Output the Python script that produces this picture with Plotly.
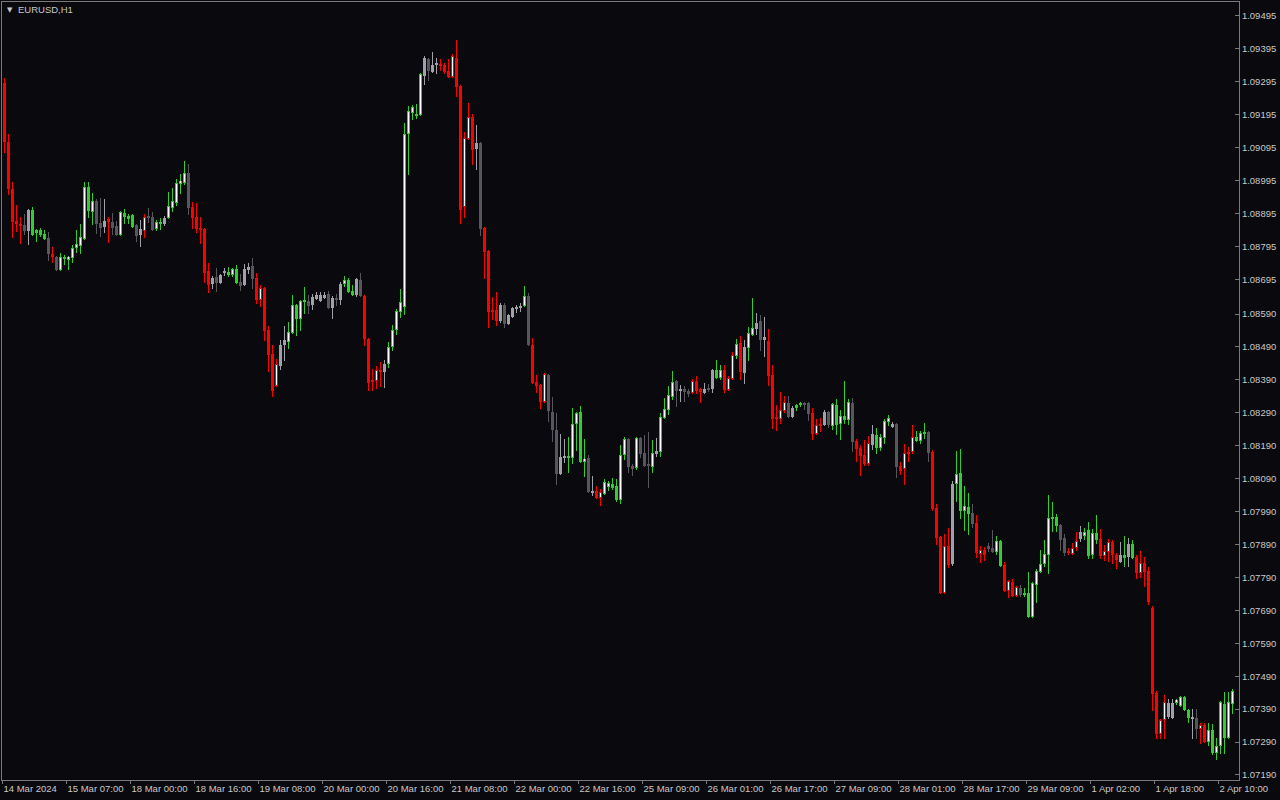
import plotly.graph_objects as go

# ---- data (EURUSD H1, bar index based) ----
opens = [1.09292,1.09113,1.08970,1.08873,1.08864,1.08861,1.08842,1.08906,1.08845,1.08845,
1.08833,1.08821,1.08773,1.08764,1.08724,1.08764,1.08754,1.08760,1.08791,1.08797,
1.08818,1.08976,1.08900,1.08934,1.08867,1.08855,1.08879,1.08870,1.08858,1.08830,
1.08897,1.08888,1.08891,1.08861,1.08830,1.08842,1.08888,1.08885,1.08849,1.08870,
1.08864,1.08882,1.08912,1.08928,1.08985,1.08988,1.09019,1.08915,1.08885,1.08852,
1.08849,1.08721,1.08681,1.08703,1.08685,1.08715,1.08718,1.08709,1.08727,1.08688,
1.08678,1.08724,1.08736,1.08700,1.08633,1.08669,1.08542,1.08469,1.08372,1.08432,
1.08496,1.08505,1.08533,1.08618,1.08575,1.08630,1.08630,1.08618,1.08636,1.08630,
1.08639,1.08651,1.08609,1.08639,1.08633,1.08681,1.08694,1.08660,1.08648,1.08694,
1.08645,1.08514,1.08384,1.08387,1.08420,1.08414,1.08439,1.08490,1.08542,1.08597,
1.08612,1.09137,1.09201,1.09192,1.09195,1.09313,1.09365,1.09325,1.09347,1.09347,
1.09347,1.09328,1.09310,1.09368,1.09283,1.08915,1.09122,1.09189,1.09091,1.09110,
1.08852,1.08782,1.08597,1.08603,1.08569,1.08618,1.08560,1.08581,1.08606,1.08611,
1.08615,1.08645,1.08496,1.08384,1.08375,1.08323,1.08405,1.08293,1.08238,1.08105,
1.08153,1.08159,1.08153,1.08256,1.08293,1.08141,1.08153,1.08047,1.08053,1.08032,
1.08044,1.08065,1.08074,1.08068,1.08026,1.08162,1.08211,1.08129,1.08123,1.08214,
1.08168,1.08132,1.08126,1.08165,1.08171,1.08275,1.08299,1.08338,1.08387,1.08357,
1.08363,1.08357,1.08350,1.08387,1.08363,1.08350,1.08366,1.08363,1.08420,1.08396,
1.08420,1.08360,1.08393,1.08463,1.08502,1.08411,1.08487,1.08527,1.08545,1.08569,
1.08511,1.08508,1.08405,1.08278,1.08272,1.08296,1.08320,1.08278,1.08314,1.08317,
1.08320,1.08320,1.08290,1.08226,1.08250,1.08253,1.08293,1.08250,1.08314,1.08256,
1.08281,1.08269,1.08320,1.08205,1.08183,1.08162,1.08135,1.08193,1.08223,1.08183,
1.08214,1.08262,1.08247,1.08256,1.08129,1.08120,1.08165,1.08171,1.08217,1.08205,
1.08229,1.08232,1.08171,1.08001,1.07913,1.07743,1.07886,1.07831,1.08074,1.08108,
1.07992,1.08004,1.07986,1.07956,1.07861,1.07874,1.07886,1.07880,1.07868,1.07901,
1.07828,1.07749,1.07776,1.07734,1.07758,1.07737,1.07743,1.07670,1.07767,1.07807,
1.07831,1.07858,1.07968,1.07974,1.07950,1.07910,1.07871,1.07861,1.07880,1.07907,
1.07916,1.07934,1.07858,1.07925,1.07907,1.07855,1.07868,1.07898,1.07858,1.07837,
1.07858,1.07852,1.07892,1.07852,1.07804,1.07834,1.07810,1.07698,1.07439,1.07315,
1.07358,1.07366,1.07363,1.07409,1.07400,1.07427,1.07388,1.07361,1.07363,1.07330,
1.07342,1.07290,1.07327,1.07257,1.07278,1.07406,1.07303,1.07406]

highs = [1.09307,1.09137,1.08991,1.08921,1.08885,1.08894,1.08909,1.08915,1.08849,1.08852,
1.08845,1.08839,1.08794,1.08767,1.08776,1.08770,1.08767,1.08800,1.08845,1.08864,
1.08991,1.08991,1.08958,1.08940,1.08943,1.08940,1.08885,1.08897,1.08873,1.08903,
1.08909,1.08894,1.08894,1.08864,1.08876,1.08894,1.08912,1.08900,1.08876,1.08882,
1.08888,1.08961,1.08973,1.09000,1.09016,1.09055,1.09046,1.08931,1.08928,1.08885,
1.08852,1.08745,1.08706,1.08730,1.08712,1.08730,1.08733,1.08730,1.08739,1.08712,
1.08742,1.08745,1.08760,1.08715,1.08678,1.08672,1.08554,1.08496,1.08454,1.08511,
1.08554,1.08566,1.08648,1.08621,1.08633,1.08672,1.08648,1.08651,1.08657,1.08657,
1.08657,1.08660,1.08645,1.08651,1.08688,1.08706,1.08700,1.08678,1.08700,1.08715,
1.08648,1.08517,1.08423,1.08432,1.08445,1.08451,1.08505,1.08557,1.08606,1.08666,
1.09170,1.09222,1.09225,1.09228,1.09322,1.09374,1.09368,1.09386,1.09368,1.09365,
1.09353,1.09365,1.09380,1.09422,1.09286,1.09143,1.09231,1.09198,1.09164,1.09113,
1.08855,1.08785,1.08642,1.08657,1.08624,1.08624,1.08590,1.08612,1.08618,1.08624,
1.08675,1.08654,1.08517,1.08405,1.08378,1.08411,1.08408,1.08338,1.08290,1.08226,
1.08211,1.08217,1.08305,1.08293,1.08311,1.08211,1.08162,1.08098,1.08068,1.08059,
1.08089,1.08083,1.08092,1.08089,1.08193,1.08217,1.08214,1.08135,1.08217,1.08217,
1.08223,1.08232,1.08208,1.08214,1.08290,1.08335,1.08372,1.08417,1.08390,1.08375,
1.08372,1.08363,1.08393,1.08402,1.08366,1.08381,1.08378,1.08423,1.08451,1.08435,
1.08435,1.08402,1.08475,1.08514,1.08524,1.08511,1.08551,1.08639,1.08593,1.08587,
1.08581,1.08545,1.08435,1.08314,1.08354,1.08341,1.08341,1.08311,1.08317,1.08323,
1.08323,1.08323,1.08305,1.08272,1.08275,1.08299,1.08296,1.08320,1.08332,1.08299,
1.08387,1.08332,1.08335,1.08211,1.08193,1.08208,1.08220,1.08253,1.08244,1.08226,
1.08272,1.08284,1.08262,1.08259,1.08141,1.08196,1.08186,1.08253,1.08235,1.08235,
1.08259,1.08235,1.08177,1.08013,1.07916,1.07922,1.07940,1.08083,1.08174,1.08180,
1.08068,1.08047,1.08013,1.07980,1.07886,1.07883,1.07895,1.07934,1.07916,1.07904,
1.07837,1.07783,1.07786,1.07764,1.07767,1.07758,1.07807,1.07776,1.07816,1.07874,
1.07904,1.08041,1.08019,1.07983,1.07953,1.07922,1.07880,1.07895,1.07928,1.07947,
1.07940,1.07959,1.07937,1.07980,1.07937,1.07889,1.07907,1.07904,1.07865,1.07898,
1.07916,1.07910,1.07904,1.07858,1.07871,1.07852,1.07822,1.07704,1.07446,1.07361,
1.07433,1.07421,1.07421,1.07421,1.07430,1.07430,1.07391,1.07391,1.07391,1.07348,
1.07348,1.07348,1.07345,1.07303,1.07415,1.07442,1.07442,1.07452]

lows = [1.09079,1.08952,1.08821,1.08839,1.08803,1.08830,1.08800,1.08827,1.08809,1.08824,
1.08815,1.08751,1.08745,1.08721,1.08721,1.08739,1.08724,1.08745,1.08776,1.08773,
1.08815,1.08882,1.08861,1.08833,1.08824,1.08836,1.08806,1.08830,1.08827,1.08827,
1.08864,1.08864,1.08852,1.08809,1.08794,1.08821,1.08867,1.08842,1.08842,1.08845,
1.08858,1.08879,1.08900,1.08918,1.08955,1.08982,1.08891,1.08849,1.08836,1.08803,
1.08685,1.08654,1.08666,1.08657,1.08681,1.08706,1.08703,1.08703,1.08681,1.08660,
1.08675,1.08712,1.08666,1.08621,1.08612,1.08508,1.08414,1.08338,1.08369,1.08420,
1.08448,1.08484,1.08530,1.08524,1.08539,1.08590,1.08590,1.08603,1.08633,1.08627,
1.08636,1.08606,1.08575,1.08615,1.08618,1.08672,1.08654,1.08645,1.08642,1.08642,
1.08493,1.08357,1.08357,1.08363,1.08369,1.08366,1.08426,1.08478,1.08527,1.08578,
1.08587,1.09013,1.09180,1.09183,1.09192,1.09286,1.09298,1.09322,1.09319,1.09328,
1.09319,1.09307,1.09307,1.09249,1.08864,1.08882,1.09119,1.09043,1.09028,1.08827,
1.08697,1.08548,1.08572,1.08554,1.08563,1.08548,1.08557,1.08578,1.08593,1.08597,
1.08612,1.08493,1.08378,1.08351,1.08302,1.08320,1.08262,1.08202,1.08071,1.08101,
1.08138,1.08108,1.08135,1.08174,1.08138,1.08095,1.08047,1.08038,1.08029,1.08007,
1.08041,1.08053,1.08056,1.08019,1.08013,1.08147,1.08108,1.08098,1.08117,1.08153,
1.08126,1.08062,1.08108,1.08156,1.08156,1.08272,1.08284,1.08329,1.08308,1.08323,
1.08323,1.08338,1.08347,1.08347,1.08320,1.08347,1.08354,1.08350,1.08393,1.08390,
1.08350,1.08357,1.08390,1.08454,1.08390,1.08378,1.08448,1.08524,1.08527,1.08478,
1.08460,1.08372,1.08241,1.08235,1.08256,1.08290,1.08275,1.08275,1.08296,1.08308,
1.08299,1.08265,1.08208,1.08223,1.08232,1.08250,1.08244,1.08238,1.08223,1.08208,
1.08256,1.08253,1.08171,1.08141,1.08098,1.08129,1.08129,1.08177,1.08165,1.08174,
1.08196,1.08250,1.08244,1.08092,1.08101,1.08071,1.08141,1.08165,1.08202,1.08196,
1.08211,1.08141,1.07992,1.07889,1.07740,1.07740,1.07819,1.07825,1.08019,1.07968,
1.07931,1.07919,1.07940,1.07849,1.07834,1.07840,1.07868,1.07865,1.07858,1.07822,
1.07746,1.07728,1.07731,1.07731,1.07731,1.07731,1.07667,1.07667,1.07713,1.07804,
1.07822,1.07801,1.07928,1.07928,1.07871,1.07855,1.07858,1.07858,1.07871,1.07898,
1.07904,1.07846,1.07846,1.07892,1.07846,1.07840,1.07837,1.07831,1.07816,1.07834,
1.07822,1.07822,1.07846,1.07786,1.07789,1.07761,1.07707,1.07385,1.07300,1.07300,
1.07300,1.07361,1.07361,1.07403,1.07397,1.07385,1.07348,1.07300,1.07300,1.07284,
1.07287,1.07278,1.07251,1.07236,1.07254,1.07254,1.07300,1.07376]

closes = [1.09113,1.08970,1.08870,1.08864,1.08858,1.08842,1.08906,1.08830,1.08836,1.08830,
1.08818,1.08773,1.08764,1.08724,1.08764,1.08757,1.08764,1.08791,1.08803,1.08824,
1.08976,1.08903,1.08934,1.08864,1.08852,1.08873,1.08870,1.08852,1.08830,1.08900,
1.08885,1.08879,1.08855,1.08827,1.08849,1.08885,1.08882,1.08845,1.08870,1.08864,
1.08882,1.08918,1.08934,1.08988,1.08994,1.09019,1.08912,1.08882,1.08849,1.08845,
1.08715,1.08678,1.08700,1.08685,1.08709,1.08718,1.08709,1.08727,1.08685,1.08675,
1.08727,1.08733,1.08697,1.08633,1.08669,1.08539,1.08466,1.08357,1.08439,1.08496,
1.08511,1.08536,1.08618,1.08575,1.08630,1.08627,1.08615,1.08642,1.08648,1.08648,
1.08648,1.08609,1.08639,1.08633,1.08681,1.08694,1.08657,1.08648,1.08697,1.08645,
1.08514,1.08381,1.08390,1.08420,1.08414,1.08439,1.08490,1.08542,1.08600,1.08627,
1.09137,1.09207,1.09219,1.09198,1.09319,1.09368,1.09328,1.09347,1.09350,1.09344,
1.09325,1.09310,1.09374,1.09280,1.08906,1.09125,1.09189,1.09088,1.09110,1.08849,
1.08779,1.08597,1.08603,1.08569,1.08618,1.08560,1.08587,1.08609,1.08612,1.08612,
1.08645,1.08496,1.08381,1.08372,1.08323,1.08408,1.08296,1.08238,1.08105,1.08156,
1.08156,1.08153,1.08256,1.08290,1.08141,1.08150,1.08050,1.08053,1.08032,1.08050,
1.08080,1.08077,1.08062,1.08026,1.08162,1.08211,1.08126,1.08120,1.08214,1.08165,
1.08129,1.08129,1.08168,1.08174,1.08278,1.08302,1.08344,1.08384,1.08357,1.08360,
1.08354,1.08347,1.08387,1.08357,1.08354,1.08363,1.08360,1.08420,1.08396,1.08420,
1.08360,1.08396,1.08466,1.08499,1.08414,1.08490,1.08533,1.08548,1.08563,1.08511,
1.08521,1.08402,1.08272,1.08272,1.08299,1.08323,1.08278,1.08305,1.08305,1.08314,
1.08314,1.08287,1.08226,1.08253,1.08256,1.08293,1.08253,1.08317,1.08253,1.08281,
1.08269,1.08323,1.08202,1.08180,1.08159,1.08135,1.08199,1.08226,1.08183,1.08217,
1.08265,1.08275,1.08256,1.08126,1.08114,1.08168,1.08171,1.08217,1.08205,1.08229,
1.08226,1.08168,1.07998,1.07910,1.07743,1.07886,1.07828,1.08074,1.08105,1.07992,
1.08007,1.07983,1.07953,1.07865,1.07874,1.07858,1.07877,1.07868,1.07901,1.07825,
1.07749,1.07780,1.07734,1.07761,1.07737,1.07743,1.07670,1.07773,1.07810,1.07831,
1.07861,1.07971,1.07974,1.07947,1.07904,1.07865,1.07865,1.07880,1.07901,1.07928,
1.07928,1.07855,1.07925,1.07904,1.07855,1.07871,1.07898,1.07858,1.07843,1.07858,
1.07849,1.07892,1.07849,1.07804,1.07834,1.07807,1.07716,1.07436,1.07315,1.07358,
1.07412,1.07409,1.07409,1.07418,1.07427,1.07388,1.07363,1.07363,1.07330,1.07342,
1.07290,1.07327,1.07257,1.07278,1.07412,1.07303,1.07412,1.07446]

# indicator colour class of each bar: g = green, r = red, n = neutral grey
bar_class = ("rrrrrnnggg" "gnrngggggg" "gggnnnrnng" "gggnnrnngg" "ngggggnrrr"
             "rrnnnngggn" "nnnrrrrrrn" "ngggggnnnn" "nnnnngggnn" "rrrrrngggg"
             "gggggnnnnr" "rrrrrrrrnn" "rrrrnnnnnn" "gnrrrrnnnn" "ngggggnnrr"
             "ggggggnngn" "nngnggggnn" "nnrrrnnngg" "rrrgrnggnn" "nrrrrrnngg"
             "nnrrrnnggg" "ggnrrrrngg" "ggnnrrrrgg" "gnrrrrrngg" "ggnrrrnngg"
             "rrrrnggggg" "ggggnnrrrn" "ggggrrrrrn" "gngrrrrrrr" "rnnggggnnr"
             "rggggggg")

price_ticks = [1.09495,1.09395,1.09295,1.09195,1.09095,1.08995,1.08895,1.08795,
               1.08695,1.08590,1.08490,1.08390,1.08290,1.08190,1.08090,1.07990,
               1.07890,1.07790,1.07690,1.07590,1.07490,1.07390,1.07290,1.07190]

time_tick_bars = list(range(0, 305, 16))
time_tick_labels = ["14 Mar 2024","15 Mar 07:00","18 Mar 00:00","18 Mar 16:00",
                    "19 Mar 08:00","20 Mar 00:00","20 Mar 16:00","21 Mar 08:00",
                    "22 Mar 00:00","22 Mar 16:00","25 Mar 09:00","26 Mar 01:00",
                    "26 Mar 17:00","27 Mar 09:00","28 Mar 01:00","28 Mar 17:00",
                    "29 Mar 09:00","1 Apr 02:00","1 Apr 18:00","2 Apr 10:00"]

# ---- styling / geometry ----
BG = "#0a0a0e"
TXT = "#c8c8c8"
FRAME = "#7a7a7a"
GREEN, RED, DGRAY, LGRAY, WHITE = "#32CD32", "#FF0000", "#56565C", "#A0A0A8", "#FFFFFF"
FONT = "Liberation Sans, Arial, sans-serif"
L, R, T, B = 2, 41, 2, 20
W, H = 1280, 800
pw, ph = W - L - R, H - T - B
Y_RANGE = [1.071748, 1.095375]
X_RANGE = [-0.625, 308.625]
PX = (Y_RANGE[1] - Y_RANGE[0]) / ph          # one screen pixel in price units

n = len(opens)
up = [closes[i] > opens[i] for i in range(n)]

def body_color(i):
    c = bar_class[i]
    if c == "g":
        return GREEN
    if c == "r":
        return RED
    return LGRAY if up[i] else DGRAY

fig = go.Figure()
COLS = (GREEN, RED, DGRAY, LGRAY)

# wicks (thin bars, drawn first so bodies sit on top)
for col in COLS:
    idx = [i for i in range(n) if body_color(i) == col]
    fig.add_trace(go.Bar(x=idx, base=[lows[i] for i in idx],
                         y=[max(highs[i] - lows[i], PX) for i in idx], width=0.25,
                         marker=dict(color=col, line=dict(width=0)),
                         hoverinfo="skip", showlegend=False))

# bodies
for col in COLS:
    idx = [i for i in range(n) if body_color(i) == col]
    fig.add_trace(go.Bar(x=idx, base=[min(opens[i], closes[i]) for i in idx],
                         y=[max(abs(closes[i] - opens[i]), PX) for i in idx], width=0.75,
                         marker=dict(color=col, line=dict(width=0)),
                         hoverinfo="skip", showlegend=False))

# hollow (white) centre of rising green / red candles
idx = [i for i in range(n) if bar_class[i] in "gr" and up[i] and (closes[i] - opens[i]) > 2.5 * PX]
fig.add_trace(go.Bar(x=idx, base=[opens[i] + PX for i in idx],
                     y=[closes[i] - opens[i] - 2 * PX for i in idx], width=0.25,
                     marker=dict(color=WHITE, line=dict(width=0)), hoverinfo="skip", showlegend=False))

fig.update_layout(
    width=W, height=H,
    paper_bgcolor=BG, plot_bgcolor=BG,
    margin=dict(l=L, r=R, t=T, b=B, autoexpand=False),
    barmode="overlay", bargap=0,
    font=dict(family=FONT, size=9.5, color=TXT),
    xaxis=dict(
        range=X_RANGE, automargin=False,
        tickmode="array", tickvals=[b - 0.5 for b in time_tick_bars], ticktext=time_tick_labels,
        ticklabelposition="outside right", tickangle=0,
        ticks="outside", ticklen=3, tickcolor=FRAME,
        showgrid=False, zeroline=False, showline=True, linecolor=FRAME, linewidth=1, mirror=True,
        tickfont=dict(family=FONT, size=9.5, color=TXT),
    ),
    yaxis=dict(
        side="right", range=Y_RANGE, automargin=False,
        tickmode="array", tickvals=price_ticks, ticktext=[f"{v:.5f}" for v in price_ticks],
        ticks="inside", ticklen=4, tickcolor=FRAME,
        showgrid=False, zeroline=False, showline=True, linecolor=FRAME, linewidth=1, mirror=True,
        tickfont=dict(family=FONT, size=9.5, color=TXT),
    ),
)
fig.add_annotation(text="▼", x=(5 - L) / pw, y=1 - (10 - T) / ph, xref="paper", yref="paper",
                   showarrow=False, xanchor="left", yanchor="middle",
                   font=dict(family="DejaVu Sans", size=7, color=TXT))
fig.add_annotation(text="EURUSD,H1", x=(16 - L) / pw, y=1 - (10 - T) / ph, xref="paper", yref="paper",
                   showarrow=False, xanchor="left", yanchor="middle",
                   font=dict(family=FONT, size=9.5, color=TXT))

fig.write_html("out.html", config={"displayModeBar": False},
               post_script="document.body.style.margin='0';document.body.style.overflow='hidden';"
                           "document.body.style.background='" + BG + "';")
